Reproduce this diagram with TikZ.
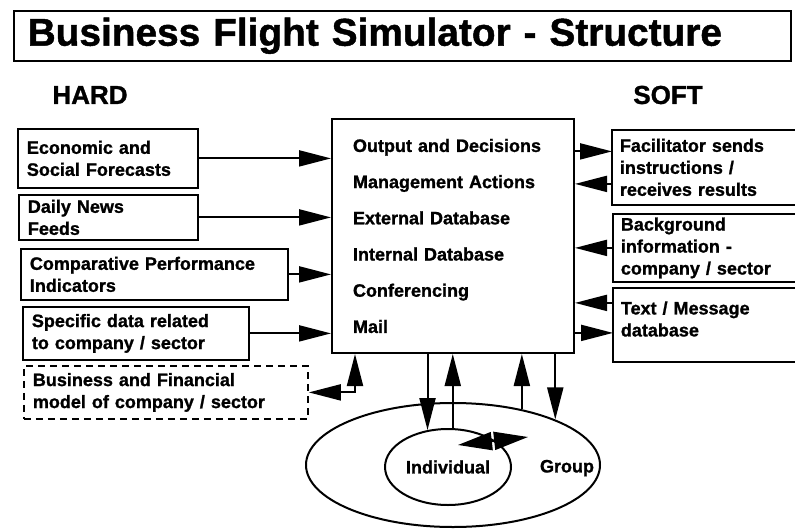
\documentclass[tikz,border=0pt]{standalone}
\usepackage{fontspec}
\setmainfont{Liberation Sans}[BoldFeatures={FakeBold=1.2}]
\usetikzlibrary{arrows.meta,shapes.geometric}
\begin{document}
\begin{tikzpicture}[x=1pt,y=-1pt,
  box/.style={draw, line width=1.8pt, anchor=north west, align=left, inner xsep=9pt, inner ysep=0pt, font=\fontsize{18}{22}\selectfont\bfseries},
  rbox/.style={box, draw=none, inner xsep=7pt},
  frame/.style={line width=1.8pt},
  arr/.style={line width=2pt, -{Triangle[length=32pt,width=16pt]}},
  darr/.style={line width=2pt, {Triangle[length=32pt,width=16pt]}-{Triangle[length=32pt,width=16pt]}},
  ell/.style={ellipse, draw, line width=2pt, inner sep=0pt},
  lbl/.style={font=\fontsize{18}{22}\selectfont\bfseries},
  head/.style={font=\fontsize{26}{28}\selectfont\bfseries}
]
\useasboundingbox (0,0) rectangle (795,530);

% title
\node[draw, line width=1.5pt, anchor=north west, minimum height=50pt, text width=749pt, inner xsep=14pt, align=left, font=\fontsize{38.8}{40}\selectfont\bfseries] (title) at (13,10) {Business Flight Simulator - Structure};

\node[head] (hard) at (90,95) {HARD};
\node[head] (soft) at (668,95) {SOFT};

% hard boxes
\node[box, text width=162pt, minimum height=59pt] (b1) at (17,128) {Economic and\\Social Forecasts};
\node[box, text width=161pt, minimum height=45pt] (b2) at (18,194) {Daily News\\Feeds};
\node[box, text width=249pt, minimum height=51pt] (b3) at (20,248) {Comparative Performance\\Indicators};
\node[box, text width=208pt, minimum height=53pt] (b4) at (22,306) {Specific data related\\to company / sector};
\node[box, dashed, dash pattern=on 7pt off 5pt, text width=266pt, minimum height=53pt] (b5) at (23,365) {Business and Financial\\model of company / sector};

% main box
\node[draw, line width=2pt, anchor=north west, align=left, inner xsep=21pt, inner ysep=0pt, text width=200pt, minimum height=234pt, font=\fontsize{18}{36.2}\selectfont\bfseries] (main) at (331,118)
 {Output and Decisions\\Management Actions\\External Database\\Internal Database\\Conferencing\\Mail};

% soft boxes (open to the right)
\node[rbox, text width=171pt, minimum height=73pt] (r1) at (612,130) {Facilitator sends\\instructions /\\receives results};
\node[rbox, text width=170pt, minimum height=66pt] (r2) at (613,214) {Background\\information -\\company / sector};
\node[rbox, text width=170pt, minimum height=72pt] (r3) at (613,288) {Text / Message\\database\rule[-12pt]{0pt}{0pt}};
\draw[frame] (r1.north east) -- (r1.north west) -- (r1.south west) -- (r1.south east);
\draw[frame] (r2.north east) -- (r2.north west) -- (r2.south west) -- (r2.south east);
\draw[frame] (r3.north east) -- (r3.north west) -- (r3.south west) -- (r3.south east);

% left arrows
\draw[arr] (b1.east) -- (b1.east -| main.west);
\draw[arr] (b2.east) -- (b2.east -| main.west);
\draw[arr] (b3.east) -- (b3.east -| main.west);
\draw[arr] (b4.east) -- (b4.east -| main.west);
\draw[darr] (b5.east) -| ([xshift=24pt]main.south west);

% right arrows
\draw[arr] ([yshift=16pt]r1.west -| main.east) -- ([yshift=16pt]r1.west);
\draw[arr] ([yshift=-16.5pt]r1.west) -- ([yshift=-16.5pt]r1.west -| main.east);
\draw[arr] (r2.west) -- (r2.west -| main.east);
\draw[arr] ([yshift=22pt]r3.west) -- ([yshift=22pt]r3.west -| main.east);
\draw[arr] ([yshift=-8pt]r3.west -| main.east) -- ([yshift=-8pt]r3.west);

% ellipses
\node[ell, minimum width=294pt, minimum height=124pt] (grp) at (453,465) {};
\node[ell, minimum width=126pt, minimum height=76pt, lbl] (ind) at (448,467) {Individual};
\node[lbl] (grplbl) at (567,468) {Group};

\draw[arr] (ind.119 |- main.south) -- (ind.119);
\draw[arr] (ind.83) -- (ind.83 |- main.south);
\draw[arr] (grp.39) -- (grp.39 |- main.south);
\draw[arr] (grp.24 |- main.south) -- (grp.24);

\coordinate (da1) at (458,445);
\coordinate (da2) at (528,437);
\draw[line width=2pt, {Triangle[length=34pt,width=18pt]}-{Triangle[length=34pt,width=18pt]}] (da1) -- (da2);
\end{tikzpicture}
\end{document}
